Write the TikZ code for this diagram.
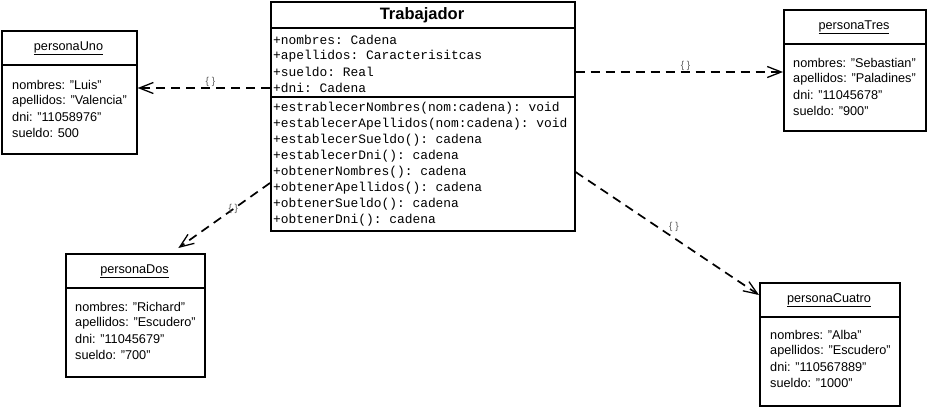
\documentclass[tikz,border=0pt]{standalone}
\usepackage{fontspec}
\setmainfont{Liberation Sans}
\setmonofont{Liberation Mono}
\usetikzlibrary{arrows.meta,calc}
\tikzset{
	caja/.style={draw, line width=1.6pt, inner sep=0pt, anchor=north west},
	titulo/.style={font=\fontsize{12.7}{14}\selectfont},
	campo/.style={anchor=west, inner sep=0pt, font=\fontsize{12.7}{14}\selectfont},
	codigo/.style={anchor=west, inner sep=0pt, font=\ttfamily\fontsize{12.9}{14}\selectfont},
	dep/.style={line width=1.7pt, dash pattern=on 9pt off 6pt, -{Straight Barb[length=14pt,width=11pt,line width=1.3pt]}},
	llave/.style={font=\fontsize{10}{10}\selectfont, text=black!65, inner sep=1pt},
}

\begin{document}
\begin{tikzpicture}[x=1pt, y=-1pt]
		%%%%% START %%%%%
		\useasboundingbox (0, 0) rectangle (928, 407);
		
		% clase
		\node[caja, minimum width=304pt, minimum height=229pt] (trab) at (270, 1) {};
		\draw[line width=1.6pt] (270, 28) -- (574, 28);
		\draw[line width=1.6pt] (270, 97) -- (574, 97);
		\node[font=\bfseries\fontsize{16.5}{18}\selectfont] (trabNom) at (422, 15) {Trabajador};
		\foreach \t [count=\i from 0] in {+nombres: Cadena, +apellidos: Caracterisitcas, +sueldo: Real, +dni: Cadena}
			\node[codigo] (t-\i) at (273, 40+16*\i) {\t};
		\foreach \t [count=\i from 0] in {+estrablecerNombres(nom:cadena): void, +establecerApellidos(nom:cadena): void, +establecerSueldo(): cadena, +establecerDni(): cadena, +obtenerNombres(): cadena, +obtenerApellidos(): cadena, +obtenerSueldo(): cadena, +obtenerDni(): cadena}
			\node[codigo] (m-\i) at (273, 108+16*\i) {\t};
		
		% personaUno
		\node[caja, minimum width=135pt, minimum height=123pt] (uno) at (1, 30) {};
		\draw[line width=1.6pt] (1, 65) -- (136, 65);
		\node[titulo] (unoNom) at (68.5, 48) {\underline{personaUno}};
		\foreach \t [count=\i from 0] in {nombres: "Luis", apellidos: "Valencia", dni: "11058976", sueldo: 500}
			\node[campo] (uno-\i) at (12, 85+16*\i) {\t};
		
		% personaDos
		\node[caja, minimum width=139pt, minimum height=123pt] (dos) at (65, 253) {};
		\draw[line width=1.6pt] (65, 288) -- (204, 288);
		\node[titulo] (dosNom) at (134.5, 271) {\underline{personaDos}};
		\foreach \t [count=\i from 0] in {nombres: "Richard", apellidos: "Escudero", dni: "11045679", sueldo: "700"}
			\node[campo] (dos-\i) at (75, 307+16*\i) {\t};
		
		% personaTres
		\node[caja, minimum width=142pt, minimum height=121pt] (tres) at (783, 9) {};
		\draw[line width=1.6pt] (783, 44) -- (925, 44);
		\node[titulo] (tresNom) at (854, 27) {\underline{personaTres}};
		\foreach \t [count=\i from 0] in {nombres: "Sebastian", apellidos: "Paladines", dni: "11045678", sueldo: "900"}
			\node[campo] (tres-\i) at (793, 63+16*\i) {\t};
		
		% personaCuatro
		\node[caja, minimum width=140pt, minimum height=123pt] (cuatro) at (759, 282) {};
		\draw[line width=1.6pt] (759, 317) -- (899, 317);
		\node[titulo] (cuatroNom) at (829, 300) {\underline{personaCuatro}};
		\foreach \t [count=\i from 0] in {nombres: "Alba", apellidos: "Escudero", dni: "110567889", sueldo: "1000"}
			\node[campo] (cuatro-\i) at (770, 335+16*\i) {\t};
		
		% dependencias
		\draw[dep] (trab.west |- t-3) -- node[llave, above, pos=0.45] (l1) {\{ \}} (uno.east |- t-3);
		\draw[dep] (trab.east |- t-2) -- node[llave, above, pos=0.53] (l2) {\{ \}} (tres.west |- t-2);
		\draw[dep] ([yshift=-182pt]trab.north west) -- node[llave, pos=0.4] (l3) {\{ \}} ([xshift=43pt, yshift=5pt]dos.north);
		\draw[dep] ([yshift=-171pt]trab.north east) -- node[llave, above right, pos=0.5] (l4) {\{ \}} ([yshift=-13pt]cuatro.north west);
		%%%%% END %%%%%
	\end{tikzpicture}
\end{document}
